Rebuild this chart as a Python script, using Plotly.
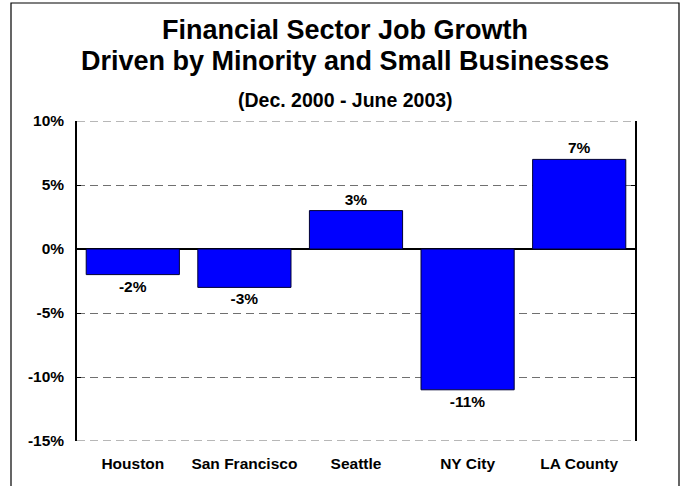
import plotly.graph_objects as go

categories = ["Houston", "San Francisco", "Seattle", "NY City", "LA County"]
values = [-2, -3, 3, -11, 7]
labels = ["-2%", "-3%", "3%", "-11%", "7%"]
tick_vals = [-15, -10, -5, 0, 5, 10]
tick_text = ["-15%", "-10%", "-5%", "0%", "5%", "10%"]

FONT = "Arial, Liberation Sans, sans-serif"

fig = go.Figure(go.Bar(
    x=categories, y=values,
    text=labels, textposition="outside", cliponaxis=False,
    textfont=dict(family=FONT, size=15.5, color="black", weight="bold"),
    marker=dict(color="#0000FF", line=dict(color="#000033", width=1)),
    width=0.835,
))

W, H = 688, 486
L, R, T, B = 77, 53, 121, 45
pw, ph = W - L - R, H - T - B

def px(x):
    return (x - L) / pw

def py(y):
    return (H - B - y) / ph

fig.update_layout(
    width=W, height=H,
    margin=dict(l=L, r=R, t=T, b=B),
    paper_bgcolor="white", plot_bgcolor="white",
    showlegend=False,
    font=dict(family=FONT, size=15.5, color="black"),
    xaxis=dict(showline=False, showgrid=False, ticks="",
               tickfont=dict(family=FONT, size=15.5, color="black", weight="bold"),
               ticklabelstandoff=11),
    yaxis=dict(range=[-15, 10], tickvals=tick_vals, ticktext=tick_text,
               showline=True, linecolor="black", linewidth=1.5, mirror="ticks",
               ticks="inside", ticklen=4, tickcolor="black",
               showgrid=True, gridcolor="#707070", gridwidth=1.2, griddash="8px,5px",
               zeroline=True, zerolinecolor="black", zerolinewidth=1.5,
               tickfont=dict(family=FONT, size=15.5, color="black", weight="bold"),
               ticklabelstandoff=8),
    shapes=[
        dict(type="rect", xref="paper", yref="paper",
             x0=px(11), x1=px(679), y0=py(495), y1=py(3),
             line=dict(color="black", width=1.2), fillcolor="rgba(0,0,0,0)", layer="below"),
        dict(type="line", xref="paper", yref="y", x0=0, x1=1, y0=10, y1=10,
             line=dict(color="#707070", width=1.2, dash="8px,5px")),
        dict(type="line", xref="paper", yref="y", x0=0, x1=1, y0=-15, y1=-15,
             line=dict(color="#707070", width=1.2, dash="8px,5px")),
    ],
    annotations=[
        dict(text="<b>Financial Sector Job Growth</b>", xref="paper", yref="paper",
             x=px(345), y=py(30), xanchor="center", yanchor="middle", showarrow=False,
             font=dict(family=FONT, size=27, color="black")),
        dict(text="<b>Driven by Minority and Small Businesses</b>", xref="paper", yref="paper",
             x=px(345), y=py(61), xanchor="center", yanchor="middle", showarrow=False,
             font=dict(family=FONT, size=27, color="black")),
        dict(text="<b>(Dec. 2000 - June 2003)</b>", xref="paper", yref="paper",
             x=px(345), y=py(100), xanchor="center", yanchor="middle", showarrow=False,
             font=dict(family=FONT, size=19.5, color="black")),
    ],
)

fig.write_html("out.html")
